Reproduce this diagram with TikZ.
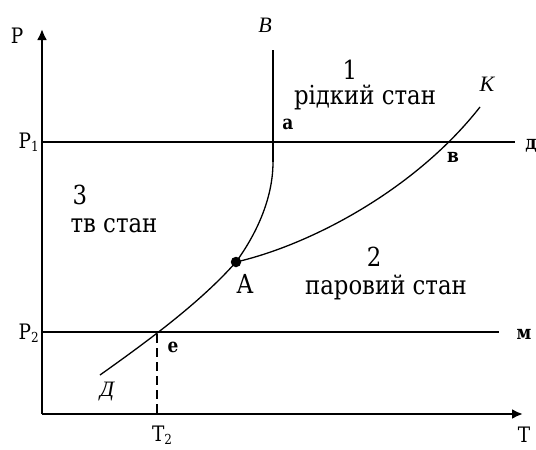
\documentclass[tikz,border=0pt]{standalone}
\usepackage{fontspec}
\usetikzlibrary{arrows.meta}
\newfontfamily\slabfam{DejaVu Serif}
\newfontfamily\seriffam{Liberation Serif}
\newcommand{\tx}[2][1.15]{\scalebox{1}[#1]{#2}}
\newcommand{\sub}[1]{\raisebox{-3pt}{\fontsize{12}{12}\selectfont #1}}
\tikzset{
  axis/.style={line width=2.6pt, -{Latex[length=11pt,width=10pt]}},
  level/.style={line width=1.8pt},
  curveln/.style={line width=1.3pt},
  bigtext/.style={font=\slabfam\fontsize{22.8}{23}\selectfont, inner sep=0pt},
  axlab/.style={font=\slabfam\fontsize{18.5}{19}\selectfont, inner sep=0pt},
  ptlab/.style={font=\slabfam\bfseries\fontsize{17}{18}\selectfont, inner sep=0pt},
  itlab/.style={font=\seriffam\itshape\fontsize{22}{22}\selectfont, inner sep=0pt},
  dot/.style={circle, fill=black, inner sep=0pt, minimum size=10.5pt}
}
\begin{document}
\begin{tikzpicture}[x=1pt,y=-1pt]
\useasboundingbox (0,0) rectangle (536,450);
% coordinates
\coordinate (O) at (42,414);
\coordinate (Ytop) at (42,29);
\coordinate (Xend) at (523,414);
\coordinate (P1l) at (42,142);
\coordinate (P1r) at (515,142);
\coordinate (P2l) at (42,332);
\coordinate (P2r) at (499,332);
\coordinate (Btop) at (273,50);
\coordinate (Bbend) at (273,162);
\coordinate (Kend) at (480,107);
\coordinate (Dend) at (100,375);
\coordinate (E) at (157,334);
\coordinate (T2) at (157,414);
\node[dot] (A) at (236,262) {};
% axes
\draw[axis] (O) -- (Ytop);
\draw[axis] (O) -- (Xend);
% pressure levels
\draw[level] (P1l) -- (P1r);
\draw[level] (P2l) -- (P2r);
% dashed
\draw[line width=2pt, dash pattern=on 9pt off 5pt] (E) -- (T2);
% curves
\draw[curveln] (A.center) .. controls (255,236) and (273,200) .. (Bbend);
\draw[line width=1.9pt] (Bbend) -- (Btop);
\draw[curveln] (A.center) .. controls (310,245) and (415,190) .. (Kend);
\draw[curveln] (Dend) .. controls (145,343) and (200,303) .. (A.center);
% axis labels
\node[axlab] (lP) at (17,36) {\tx{P}};
\node[axlab, anchor=east] (lP1) at (39,142) {\tx{P\sub{1}}};
\node[axlab, anchor=east] (lP2) at (39,333) {\tx{P\sub{2}}};
\node[axlab] (lT) at (524,435) {\tx{T}};
\node[axlab] (lT2) at (162,435) {\tx{T\sub{2}}};
% italic labels
\node[itlab] (lB) at (265,25) {В};
\node[itlab] (lK) at (487,84) {К};
\node[itlab] (lD) at (107,392) {Д};
% point labels
\node[ptlab] (la) at (288,124) {\tx{а}};
\node[ptlab] (lv) at (453,157) {\tx{в}};
\node[ptlab] (le) at (173,347) {\tx{е}};
\node[ptlab] (lm) at (524,334) {\tx{м}};
\node[ptlab] (ld) at (531,146) {\tx{д}};
\node[bigtext] (lA) at (245,284) {\tx{А}};
% region labels
\node[bigtext] (n1) at (350,70) {\tx{1}};
\node[bigtext] (r1) at (365,97) {\tx{рідкий стан}};
\node[bigtext] (n2) at (374,257) {\tx{2}};
\node[bigtext] (r2) at (386,287) {\tx{паровий стан}};
\node[bigtext] (n3) at (80,195) {\tx{3}};
\node[bigtext] (r3) at (114,226) {\tx{тв стан}};
\end{tikzpicture}
\end{document}
